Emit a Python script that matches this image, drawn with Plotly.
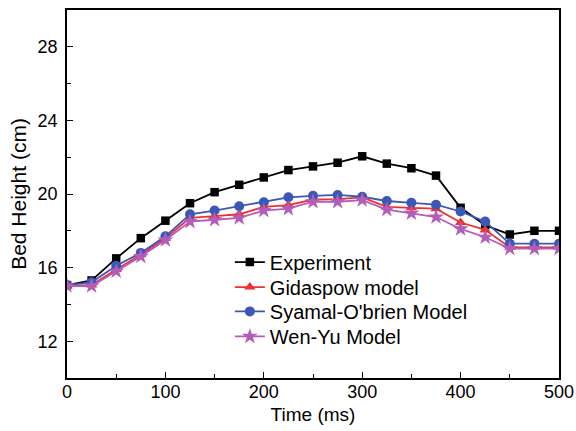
import plotly.graph_objects as go

time_ms = [0, 25, 50, 75, 100, 125, 150, 175, 200, 225, 250, 275, 300, 325, 350, 375, 400, 425, 450, 475, 500]
experiment = [15.05, 15.3, 16.5, 17.6, 18.55, 19.5, 20.1, 20.5, 20.9, 21.3, 21.5, 21.7, 22.05, 21.65, 21.4, 21.0, 19.25, 18.3, 17.8, 18.0, 18.0]
gidaspow = [15.0, 15.05, 15.9, 16.7, 17.6, 18.7, 18.8, 18.9, 19.3, 19.4, 19.7, 19.72, 19.82, 19.3, 19.25, 19.2, 18.45, 18.05, 17.1, 17.1, 17.1]
syamal = [15.05, 15.2, 16.1, 16.8, 17.7, 18.9, 19.1, 19.33, 19.55, 19.82, 19.9, 19.95, 19.85, 19.62, 19.52, 19.42, 19.05, 18.5, 17.3, 17.3, 17.3]
wenyu = [15.0, 15.0, 15.8, 16.6, 17.5, 18.5, 18.6, 18.7, 19.1, 19.2, 19.58, 19.58, 19.67, 19.15, 18.95, 18.75, 18.1, 17.65, 17.03, 17.03, 17.03]

series = [
    ("Experiment", experiment, "#000000", "square", 8.5),
    ("Gidaspow model", gidaspow, "#F03030", "triangle-up", 10),
    ("Syamal-O'brien Model", syamal, "#3C58B6", "circle", 10),
    ("Wen-Yu Model", wenyu, "#B45CB8", "star", 12),
]
legend_ids = ["legend", "legend2", "legend3", "legend4"]
legend_y = [0.315, 0.247, 0.181, 0.113]

fig = go.Figure()
for (name, vals, color, sym, size), lid in zip(series, legend_ids):
    fig.add_trace(go.Scatter(
        x=time_ms, y=vals, name=name, mode="lines+markers",
        line=dict(color=color, width=1.8),
        marker=dict(symbol=sym, size=size, color=color, line=dict(width=0)),
        legend=lid,
    ))

axis_common = dict(
    showline=True, linecolor="black", linewidth=1.5, mirror=True,
    ticks="inside", ticklen=6, tickwidth=1.2, tickcolor="black",
    showgrid=False, zeroline=False, automargin=False,
    tickfont=dict(size=18, color="black"),
)

fig.update_xaxes(
    range=[0, 500], tickvals=[0, 100, 200, 300, 400, 500],
    minor=dict(ticks="inside", ticklen=4, tickcolor="black", dtick=50, tick0=0, showgrid=False),
    title=dict(text="Time (ms)", font=dict(size=19, color="black"), standoff=6),
    ticklabelstandoff=-3,
    **axis_common,
)
fig.update_yaxes(
    range=[10, 30], tickvals=[12, 16, 20, 24, 28],
    minor=dict(ticks="inside", ticklen=4, tickcolor="black", tickvals=[14, 18, 22, 26], showgrid=False),
    title=dict(text="Bed Height (cm)", font=dict(size=21, color="black"), standoff=5),
    ticklabelstandoff=4,
    **axis_common,
)

leg_common = dict(
    x=0.331, xanchor="left", yanchor="middle",
    bgcolor="rgba(0,0,0,0)", font=dict(size=20, color="black"),
    itemwidth=30,
)
fig.update_layout(
    width=576, height=431,
    margin=dict(l=67, r=17, t=10, b=53),
    paper_bgcolor="white", plot_bgcolor="white",
    font=dict(family="Arial, 'Liberation Sans', sans-serif", color="black"),
    showlegend=True,
)
for lid, y in zip(legend_ids, legend_y):
    fig.update_layout({lid: dict(y=y, **leg_common)})

fig.write_html(
    "out.html",
    config={"displayModeBar": False},
    post_script="document.body.style.margin='0';document.body.style.padding='0';",
)
